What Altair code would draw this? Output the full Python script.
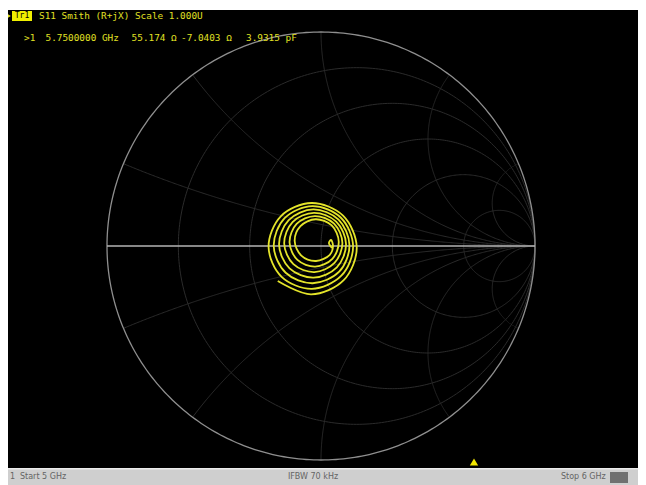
import altair as alt
import numpy as np
import pandas as pd

# ---------------- data ----------------
# S11 trace (reflection coefficient, real / imaginary), read from the screen
trace_re = [-0.202, -0.046, 0.106, 0.167, 0.103, -0.044, -0.188, -0.245,
            -0.184, -0.043, 0.095, 0.150, 0.093, -0.040, -0.170, -0.221,
            -0.165, -0.039, 0.085, 0.133, 0.082, -0.036, -0.151, -0.196,
            -0.147, -0.035, 0.074, 0.117, 0.071, -0.033, -0.133, -0.172,
            -0.129, -0.031, 0.063, 0.100, 0.061, -0.029, -0.114, -0.147,
            -0.110, -0.027, 0.053, 0.083, 0.050, -0.025, -0.096, -0.123,
            -0.092, -0.023, 0.041, 0.056, 0.047, 0.037, 0.051]
trace_im = [-0.164, -0.226, -0.160, -0.007, 0.142, 0.201, 0.139, -0.005,
            -0.144, -0.200, -0.139, -0.002, 0.132, 0.186, 0.130, 0.001,
            -0.125, -0.174, -0.120, 0.004, 0.123, 0.171, 0.121, 0.007,
            -0.105, -0.148, -0.100, 0.009, 0.114, 0.155, 0.112, 0.012,
            -0.085, -0.122, -0.079, 0.014, 0.105, 0.140, 0.103, 0.017,
            -0.065, -0.096, -0.060, 0.020, 0.096, 0.125, 0.093, 0.023,
            -0.045, -0.070, -0.041, 0.000, 0.028, 0.014, -0.009]

# Smith chart grid values
r_grid = [0.2, 0.5, 1, 2, 5]
x_grid = [0.2, 0.5, 1, 2, 5]

title_line = "S11 Smith (R+jX) Scale 1.000U"
trace_tag = "Tr1"
marker_texts = [">1", "5.7500000 GHz", "55.174 Ω", "-7.0403 Ω", "3.9315 pF"]
status_texts = ["1", "Start 5 GHz", "IFBW 70 kHz", "Stop 6 GHz"]

# ---------------- layout ----------------
W, H = 630, 477
CX, CY, RAD = 313, 238, 214
x_dom = [-CX / RAD, (W - CX) / RAD]
y_dom = [(CY - H) / RAD, CY / RAD]

X = lambda: alt.X("re:Q", scale=alt.Scale(domain=x_dom, nice=False, zero=False), axis=None)
Y = lambda: alt.Y("im:Q", scale=alt.Scale(domain=y_dom, nice=False, zero=False), axis=None)

# grid geometry from grid values
rows = []
t = np.linspace(0, 2 * np.pi, 361)
for r in r_grid:
    c, rr = r / (1 + r), 1 / (1 + r)
    for k, tt in enumerate(t):
        rows.append(("r%s" % r, k, c + rr * np.cos(tt), rr * np.sin(tt)))
res = np.tan(np.linspace(0, np.pi / 2 - 1e-4, 400))
for xv in x_grid:
    for s in (1, -1):
        z = res + 1j * s * xv
        g = (z - 1) / (z + 1)
        for k, gg in enumerate(g):
            rows.append(("x%s_%d" % (xv, s), k, gg.real, gg.imag))
grid_df = pd.DataFrame(rows, columns=["id", "k", "re", "im"])

unit_df = pd.DataFrame({"k": range(len(t)), "re": np.cos(t), "im": np.sin(t)})
axis_df = pd.DataFrame({"k": [0, 1], "re": [-1, 1], "im": [0, 0]})
trace_df = pd.DataFrame({"k": range(len(trace_re)), "re": trace_re, "im": trace_im})

one = pd.DataFrame({"a": [0]})

def rect(x0, x1, y0, y1, color):
    return alt.Chart(one).mark_rect(color=color).encode(
        x=alt.value(x0), x2=alt.value(x1), y=alt.value(y0), y2=alt.value(y1))

def txt(s, x, y, color, size, font="DejaVu Sans Mono", align="left", weight="normal"):
    return alt.Chart(pd.DataFrame({"s": [s]})).mark_text(
        align=align, baseline="middle", color=color, fontSize=size, font=font,
        fontWeight=weight).encode(x=alt.value(x), y=alt.value(y), text="s:N")

panel = rect(0, W, 2, 460, "#000000")
bar = rect(0, W, 460, H, "#cfcfcf")
bar_top = rect(0, W, 460, 461.5, "#ececec")
icon = rect(602, 620, 464, 475, "#707070")

grid = alt.Chart(grid_df).mark_line(color="#2b2b2b", strokeWidth=1).encode(
    x=X(), y=Y(), detail="id:N", order="k:Q")
unit = alt.Chart(unit_df).mark_line(color="#8f8f8f", strokeWidth=1.3).encode(
    x=X(), y=Y(), order="k:Q")
axis_line = alt.Chart(axis_df).mark_line(color="#b4b4b4", strokeWidth=1.4).encode(
    x=X(), y=Y(), order="k:Q")
trace = alt.Chart(trace_df).mark_line(color="#e4e42a", strokeWidth=1.8,
                                      interpolate="catmull-rom").encode(
    x=X(), y=Y(), order="k:Q")

yel = "#e0e024"
tag_box = rect(4, 24, 3, 13, "#f0f000")
tri_left = alt.Chart(one).mark_point(shape="triangle-right", filled=True, color=yel,
                                     size=18, opacity=1).encode(x=alt.value(1), y=alt.value(8))
texts = [
    txt(trace_tag, 14, 8, "#000000", 8, align="center"),
    txt(title_line, 31, 8, yel, 9.4),
    txt(marker_texts[0], 16, 30, yel, 9.4),
    txt(marker_texts[1], 37.5, 30, yel, 9.4),
    txt(marker_texts[2], 123.6, 30, yel, 9.4),
    txt(marker_texts[3], 173, 30, yel, 9.4),
    txt(marker_texts[4], 238, 30, yel, 9.4),
    txt(status_texts[0], 2, 469, "#646464", 8, font="DejaVu Sans"),
    txt(status_texts[1], 12, 469, "#646464", 8, font="DejaVu Sans"),
    txt(status_texts[2], 305, 469, "#646464", 8, font="DejaVu Sans", align="center"),
    txt(status_texts[3], 553, 469, "#646464", 8, font="DejaVu Sans"),
]
mk = alt.Chart(one).mark_point(shape="triangle-up", filled=True, color="#f2e600",
                               size=70, opacity=1).encode(x=alt.value(466), y=alt.value(454))

chart = alt.layer(panel, bar, bar_top, icon, grid, unit, axis_line, trace,
                  tag_box, tri_left, mk, *texts).properties(
    width=W, height=H,
    autosize=alt.AutoSizeParams(type="none"),
    padding=0,
    background="#ffffff",
).configure_view(stroke=None)

chart.save("out.html", embed_options={"renderer": "svg", "actions": False})
